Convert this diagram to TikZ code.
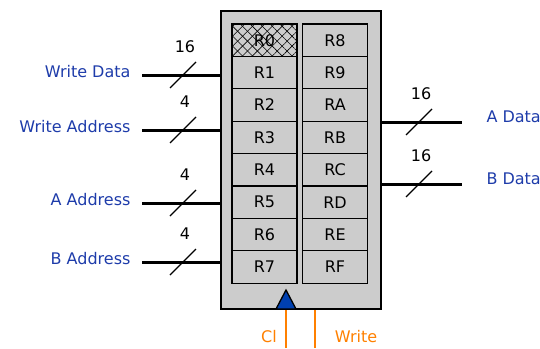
\documentclass[tikz,border=0pt]{standalone}
\usepackage{fontspec}
\setmainfont{DejaVu Sans}
\usetikzlibrary{patterns.meta}
\definecolor{regfill}{RGB}{204,204,204}
\definecolor{sigblue}{RGB}{30,60,170}
\definecolor{clkorange}{RGB}{255,128,0}
\definecolor{clkblue}{RGB}{0,64,176}
\tikzset{
  bus/.style={line width=3pt},
  buswidth/.style={line width=1.3pt},
  reg/.style={draw,line width=1.3pt,fill=regfill,minimum width=65pt,minimum height=32.4pt,
    inner sep=0pt,font=\fontsize{16}{18}\selectfont},
  hatch/.style={postaction={pattern={Lines[angle=45,distance=7pt,line width=0.6pt]}},
    postaction={pattern={Lines[angle=-45,distance=7pt,line width=0.6pt]}}},
  sig/.style={text=sigblue,font=\fontsize{16}{18}\selectfont},
  bits/.style={font=\fontsize{16}{18}\selectfont},
}
\begin{document}
\begin{tikzpicture}[x=1pt,y=-1pt]
\useasboundingbox (0,0) rectangle (540,348);
\node[draw,line width=1.6pt,fill=regfill,minimum width=160pt,minimum height=298pt,inner sep=0pt] (rf) at (301,160) {};
\foreach \a/\b [count=\i from 0] in {0/8,1/9,2/A,3/B,4/C,5/D,6/E,7/F}{
  \node[reg] (r\a) at (264.5,{24+32.4*(\i+0.5)}) {R\a};
  \node[reg] (r\b) at (335,{24+32.4*(\i+0.5)}) {R\b};
}
\node[reg,hatch] (r0h) at (r0) {R0};
% inputs
\foreach \y/\txt/\w/\nm in {75/Write Data/16/wd,130/Write Address/4/wa,203/A Address/4/aa,262/B Address/4/ba}{
  \coordinate (\nm) at (142,\y);
  \draw[bus] (\nm) -- (\nm -| rf.west);
  \draw[buswidth] ([shift={(28,13)}]\nm) -- ([shift={(54,-13)}]\nm);
  \node[bits] (\nm-w) at ([shift={(43,-28)}]\nm) {\w};
  \node[sig,anchor=east] (\nm-l) at ([shift={(-8,-3)}]\nm) {\txt};
}
% outputs
\foreach \y/\txt/\nm in {122/A Data/ad,184/B Data/bd}{
  \coordinate (\nm) at (462,\y);
  \draw[bus] (\nm -| rf.east) -- (\nm);
  \draw[buswidth] ([shift={(-56,13)}]\nm) -- ([shift={(-30,-13)}]\nm);
  \node[bits] (\nm-w) at ([shift={(-41,-28)}]\nm) {16};
  \node[sig,anchor=west] (\nm-l) at ([shift={(21,-5)}]\nm) {\txt};
}
% clock
\draw[fill=clkblue,line width=1.3pt] (276,309) -- (286,290) -- (296,309) -- cycle;
\coordinate (cl) at (286,348);
\coordinate (wr) at (315,348);
\draw[clkorange,line width=2pt] (cl) -- (cl |- rf.south);
\draw[clkorange,line width=2pt] (wr) -- (wr |- rf.south);
\node[sig,text=clkorange] (cl-l) at (269,337) {Cl};
\node[sig,text=clkorange] (wr-l) at (356,337) {Write};
\end{tikzpicture}
\end{document}
